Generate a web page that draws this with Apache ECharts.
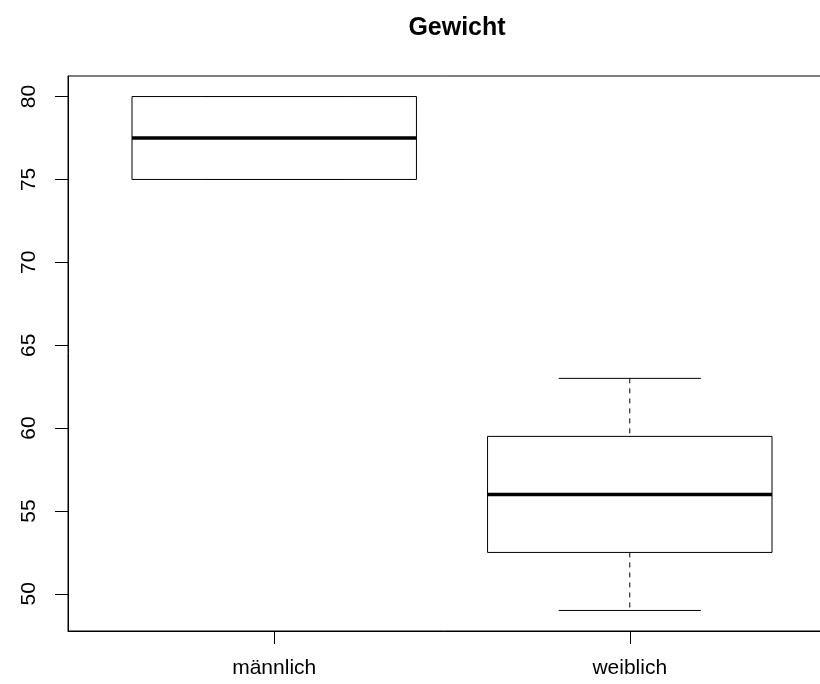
<!DOCTYPE html>
<html>
<head>
<meta charset="utf-8">
<script src="https://cdn.jsdelivr.net/npm/echarts@6/dist/echarts.min.js"></script>
<style>
  html, body { margin: 0; padding: 0; background: #fff; }
  #chart { width: 820px; height: 684px; }
</style>
</head>
<body>
<div id="chart"></div>
<script>
// Gewicht nach Geschlecht (Boxplot)
var categories = ['männlich', 'weiblich'];
var mins    = [75, 49];
var q1s     = [75, 52.5];
var medians = [77.5, 56];
var q3s     = [80, 59.5];
var maxs    = [80, 63];
var yTicks  = [50, 55, 60, 65, 70, 75, 80];

var boxData = categories.map(function (c, i) {
  return [i + 1, mins[i], q1s[i], medians[i], q3s[i], maxs[i]];
});

var myChart = echarts.init(document.getElementById('chart'));

function renderBox(params, api) {
  var x = api.value(0);
  var lo = api.coord([x, api.value(1)]);
  var b1 = api.coord([x, api.value(2)]);
  var md = api.coord([x, api.value(3)]);
  var b3 = api.coord([x, api.value(4)]);
  var hi = api.coord([x, api.value(5)]);
  var halfBox = api.size([0.4, 0])[0];
  var halfStaple = api.size([0.2, 0])[0];
  var cx = lo[0];
  var black = '#000';
  return {
    type: 'group',
    children: [
      // whiskers (dashed)
      { type: 'line', shape: { x1: cx, y1: hi[1], x2: cx, y2: b3[1] },
        style: { stroke: black, lineWidth: 1, lineDash: [5, 5] } },
      { type: 'line', shape: { x1: cx, y1: b1[1], x2: cx, y2: lo[1] },
        style: { stroke: black, lineWidth: 1, lineDash: [5, 5] } },
      // staples
      { type: 'line', shape: { x1: cx - halfStaple, y1: hi[1], x2: cx + halfStaple, y2: hi[1] },
        style: { stroke: black, lineWidth: 1 } },
      { type: 'line', shape: { x1: cx - halfStaple, y1: lo[1], x2: cx + halfStaple, y2: lo[1] },
        style: { stroke: black, lineWidth: 1 } },
      // box
      { type: 'rect', shape: { x: cx - halfBox, y: b3[1], width: 2 * halfBox, height: b1[1] - b3[1] },
        style: { fill: '#fff', stroke: black, lineWidth: 1 } },
      // median
      { type: 'line', shape: { x1: cx - halfBox, y1: md[1], x2: cx + halfBox, y2: md[1] },
        style: { stroke: black, lineWidth: 3.5 } }
    ]
  };
}

var option = {
  animation: false,
  backgroundColor: '#fff',
  textStyle: { fontFamily: 'Liberation Sans, Arial, sans-serif', color: '#000' },
  title: {
    text: 'Gewicht',
    left: 452,
    top: 11,
    textAlign: 'center',
    textStyle: { fontSize: 25, fontWeight: 'bold', color: '#000', fontFamily: 'Liberation Sans, Arial, sans-serif' }
  },
  grid: {
    left: 68,
    top: 76,
    width: 768,
    bottom: 53,
    outerBoundsMode: 'none',
    show: true,
    borderColor: '#000',
    borderWidth: 1,
    backgroundColor: 'transparent'
  },
  xAxis: {
    type: 'value',
    min: 0.42,
    max: 2.58,
    splitLine: { show: false },
    axisLine: { show: true, lineStyle: { color: '#000', width: 1 } },
    axisTick: { show: true, length: 13, customValues: [1, 2], lineStyle: { color: '#000' } },
    axisLabel: {
      show: true,
      customValues: [1, 2],
      margin: 27,
      fontSize: 21,
      color: '#000',
      formatter: function (v) { return categories[Math.round(v) - 1] || ''; }
    }
  },
  yAxis: {
    type: 'value',
    min: 47.76,
    max: 81.24,
    splitLine: { show: false },
    axisLine: { show: true, lineStyle: { color: '#000', width: 1 } },
    axisTick: { show: true, length: 13, customValues: yTicks, lineStyle: { color: '#000' } },
    axisLabel: {
      show: true,
      customValues: yTicks,
      rotate: 90,
      margin: 28,
      fontSize: 21,
      color: '#000'
    }
  },
  series: [
    {
      type: 'custom',
      renderItem: renderBox,
      data: boxData,
      clip: false
    }
  ]
};

myChart.setOption(option);
</script>
</body>
</html>
